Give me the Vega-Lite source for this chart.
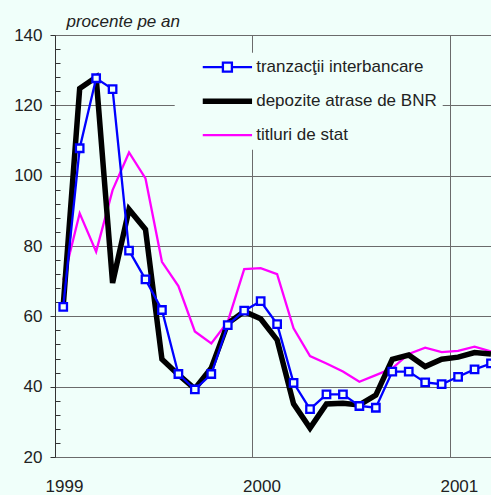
{
  "$schema": "https://vega.github.io/schema/vega-lite/v6.json",
  "width": 436,
  "height": 422,
  "autosize": "none",
  "padding": {"left": 55, "top": 35, "right": 0, "bottom": 38},
  "background": "#f0fffa",
  "config": {"view": {"stroke": null}, "font": "Liberation Sans"},
  "datasets": {
    "rows": [
      {"m": 0, "serie": "titluri de stat", "v": 70.3},
      {"m": 1, "serie": "titluri de stat", "v": 89.3},
      {"m": 2, "serie": "titluri de stat", "v": 78.4},
      {"m": 3, "serie": "titluri de stat", "v": 95.9},
      {"m": 4, "serie": "titluri de stat", "v": 106.6},
      {"m": 5, "serie": "titluri de stat", "v": 99.2},
      {"m": 6, "serie": "titluri de stat", "v": 75.5},
      {"m": 7, "serie": "titluri de stat", "v": 68.6},
      {"m": 8, "serie": "titluri de stat", "v": 55.7},
      {"m": 9, "serie": "titluri de stat", "v": 52.3},
      {"m": 10, "serie": "titluri de stat", "v": 58.5},
      {"m": 11, "serie": "titluri de stat", "v": 73.4},
      {"m": 12, "serie": "titluri de stat", "v": 73.7},
      {"m": 13, "serie": "titluri de stat", "v": 72.0},
      {"m": 14, "serie": "titluri de stat", "v": 56.6},
      {"m": 15, "serie": "titluri de stat", "v": 48.7},
      {"m": 16, "serie": "titluri de stat", "v": 46.6},
      {"m": 17, "serie": "titluri de stat", "v": 44.3},
      {"m": 18, "serie": "titluri de stat", "v": 41.4},
      {"m": 19, "serie": "titluri de stat", "v": 43.3},
      {"m": 20, "serie": "titluri de stat", "v": 45.2},
      {"m": 21, "serie": "titluri de stat", "v": 49.3},
      {"m": 22, "serie": "titluri de stat", "v": 51.1},
      {"m": 23, "serie": "titluri de stat", "v": 49.8},
      {"m": 24, "serie": "titluri de stat", "v": 50.2},
      {"m": 25, "serie": "titluri de stat", "v": 51.4},
      {"m": 26, "serie": "titluri de stat", "v": 50.0},
      {"m": 0, "serie": "depozite atrase de BNR", "v": 63.0},
      {"m": 1, "serie": "depozite atrase de BNR", "v": 124.8},
      {"m": 2, "serie": "depozite atrase de BNR", "v": 128.0},
      {"m": 3, "serie": "depozite atrase de BNR", "v": 69.5},
      {"m": 4, "serie": "depozite atrase de BNR", "v": 90.4},
      {"m": 5, "serie": "depozite atrase de BNR", "v": 84.7},
      {"m": 6, "serie": "depozite atrase de BNR", "v": 47.8},
      {"m": 7, "serie": "depozite atrase de BNR", "v": 43.4},
      {"m": 8, "serie": "depozite atrase de BNR", "v": 39.4},
      {"m": 9, "serie": "depozite atrase de BNR", "v": 45.3},
      {"m": 10, "serie": "depozite atrase de BNR", "v": 58.0},
      {"m": 11, "serie": "depozite atrase de BNR", "v": 61.4},
      {"m": 12, "serie": "depozite atrase de BNR", "v": 59.3},
      {"m": 13, "serie": "depozite atrase de BNR", "v": 53.3},
      {"m": 14, "serie": "depozite atrase de BNR", "v": 35.1},
      {"m": 15, "serie": "depozite atrase de BNR", "v": 28.2},
      {"m": 16, "serie": "depozite atrase de BNR", "v": 35.1},
      {"m": 17, "serie": "depozite atrase de BNR", "v": 35.3},
      {"m": 18, "serie": "depozite atrase de BNR", "v": 34.8},
      {"m": 19, "serie": "depozite atrase de BNR", "v": 37.6},
      {"m": 20, "serie": "depozite atrase de BNR", "v": 47.8},
      {"m": 21, "serie": "depozite atrase de BNR", "v": 49.0},
      {"m": 22, "serie": "depozite atrase de BNR", "v": 45.7},
      {"m": 23, "serie": "depozite atrase de BNR", "v": 47.8},
      {"m": 24, "serie": "depozite atrase de BNR", "v": 48.4},
      {"m": 25, "serie": "depozite atrase de BNR", "v": 49.7},
      {"m": 26, "serie": "depozite atrase de BNR", "v": 49.3},
      {"m": 0, "serie": "tranzacţii interbancare", "v": 62.7},
      {"m": 1, "serie": "tranzacţii interbancare", "v": 107.8},
      {"m": 2, "serie": "tranzacţii interbancare", "v": 127.7},
      {"m": 3, "serie": "tranzacţii interbancare", "v": 124.6},
      {"m": 4, "serie": "tranzacţii interbancare", "v": 78.7},
      {"m": 5, "serie": "tranzacţii interbancare", "v": 70.5},
      {"m": 6, "serie": "tranzacţii interbancare", "v": 61.8},
      {"m": 7, "serie": "tranzacţii interbancare", "v": 43.6},
      {"m": 8, "serie": "tranzacţii interbancare", "v": 39.2},
      {"m": 9, "serie": "tranzacţii interbancare", "v": 43.6},
      {"m": 10, "serie": "tranzacţii interbancare", "v": 57.5},
      {"m": 11, "serie": "tranzacţii interbancare", "v": 61.6},
      {"m": 12, "serie": "tranzacţii interbancare", "v": 64.3},
      {"m": 13, "serie": "tranzacţii interbancare", "v": 57.8},
      {"m": 14, "serie": "tranzacţii interbancare", "v": 41.1},
      {"m": 15, "serie": "tranzacţii interbancare", "v": 33.6},
      {"m": 16, "serie": "tranzacţii interbancare", "v": 37.8},
      {"m": 17, "serie": "tranzacţii interbancare", "v": 37.8},
      {"m": 18, "serie": "tranzacţii interbancare", "v": 34.5},
      {"m": 19, "serie": "tranzacţii interbancare", "v": 34.0},
      {"m": 20, "serie": "tranzacţii interbancare", "v": 44.3},
      {"m": 21, "serie": "tranzacţii interbancare", "v": 44.3},
      {"m": 22, "serie": "tranzacţii interbancare", "v": 41.2},
      {"m": 23, "serie": "tranzacţii interbancare", "v": 40.7},
      {"m": 24, "serie": "tranzacţii interbancare", "v": 42.8},
      {"m": 25, "serie": "tranzacţii interbancare", "v": 44.9},
      {"m": 26, "serie": "tranzacţii interbancare", "v": 46.6}
    ]
  },
  "data": {"name": "rows"},
  "encoding": {
    "x": {
      "field": "m",
      "type": "quantitative",
      "scale": {"domain": [-0.5, 26], "nice": false, "zero": false},
      "axis": {
        "title": null,
        "values": [-0.5, 11.5, 23.5],
        "labelExpr": "datum.value < 0 ? '1999' : (datum.value < 12 ? '2000' : '2001')",
        "ticks": false,
        "domain": false,
        "grid": true,
        "gridColor": "#6b6b6b",
        "labelOffset": 9,
        "labelPadding": 21,
        "labelFlush": false,
        "labelOverlap": false,
        "labelBound": false,
        "labelFontSize": 17,
        "labelColor": "#222222"
      }
    },
    "y": {
      "field": "v",
      "type": "quantitative",
      "scale": {"domain": [20, 140], "nice": false, "zero": false},
      "axis": {
        "values": [20, 24, 28, 32, 36, 40, 44, 48, 52, 56, 60, 64, 68, 72, 76, 80, 84, 88, 92, 96, 100, 104, 108, 112, 116, 120, 124, 128, 132, 136, 140],
        "labelExpr": "datum.value % 20 === 0 ? datum.label : ''",
        "tickSize": {"condition": {"test": "datum.value % 20 === 0", "value": 5}, "value": -5},
        "grid": true,
        "gridOpacity": {"condition": {"test": "datum.value % 20 === 0", "value": 1}, "value": 0},
        "gridColor": "#6b6b6b",
        "domainColor": "#333333",
        "tickColor": "#333333",
        "labelPadding": 8,
        "labelOverlap": false,
        "labelFontSize": 17,
        "labelColor": "#222222",
        "title": "procente pe an",
        "titleAngle": 0,
        "titleAlign": "left",
        "titleBaseline": "alphabetic",
        "titleX": 11,
        "titleY": -9,
        "titleFontStyle": "italic",
        "titleFontWeight": "normal",
        "titleFontSize": 17,
        "titleColor": "#222222"
      }
    },
    "color": {
      "field": "serie",
      "type": "nominal",
      "scale": {
        "domain": ["tranzacţii interbancare", "depozite atrase de BNR", "titluri de stat"],
        "range": ["#0000ff", "#000000", "#ff00ff"]
      },
      "legend": {
        "title": null,
        "orient": "none",
        "legendX": 119.7,
        "legendY": 17.7,
        "fillColor": "#f0fffa",
        "padding": 6,
        "rowPadding": 13,
        "symbolSize": 100,
        "symbolType": "stroke",
        "symbolOffset": 38.2,
        "labelOffset": 20.3,
        "labelFontSize": 17,
        "labelColor": "#222222",
        "labelLimit": 400,
        "labelExpr": "datum.label + '\u00a0\u00a0\u00a0\u00a0\u00a0\u00a0\u00a0'",
        "encode": {
          "symbols": {
            "update": {
              "shape": {"signal": "datum.value === 'tranzacţii interbancare' ? 'M-4.93,0H-0.9M0.9,0H4.93M-0.9,-0.9H0.9V0.9H-0.9Z' : 'M-4.93,0H4.93'"},
              "strokeWidth": {"signal": "(datum.value === 'depozite atrase de BNR' ? 5.5 : 2.3)"},
              "fill": {"value": "#f0fffa"},
              "opacity": {"value": 1},
              "size": {"value": 100}
            }
          }
        }
      }
    }
  },
  "layer": [
    {
      "transform": [{"filter": "datum.serie === 'titluri de stat'"}],
      "mark": {"type": "line", "strokeWidth": 2.3}
    },
    {
      "transform": [{"filter": "datum.serie === 'depozite atrase de BNR'"}],
      "mark": {"type": "line", "strokeWidth": 5.5}
    },
    {
      "transform": [{"filter": "datum.serie === 'tranzacţii interbancare'"}],
      "mark": {"type": "line", "strokeWidth": 2.3}
    },
    {
      "transform": [{"filter": "datum.serie === 'tranzacţii interbancare'"}],
      "mark": {"type": "point", "shape": "square", "size": 56, "filled": false, "fill": "#f0fffa", "strokeWidth": 2.3, "opacity": 1}
    }
  ]
}
